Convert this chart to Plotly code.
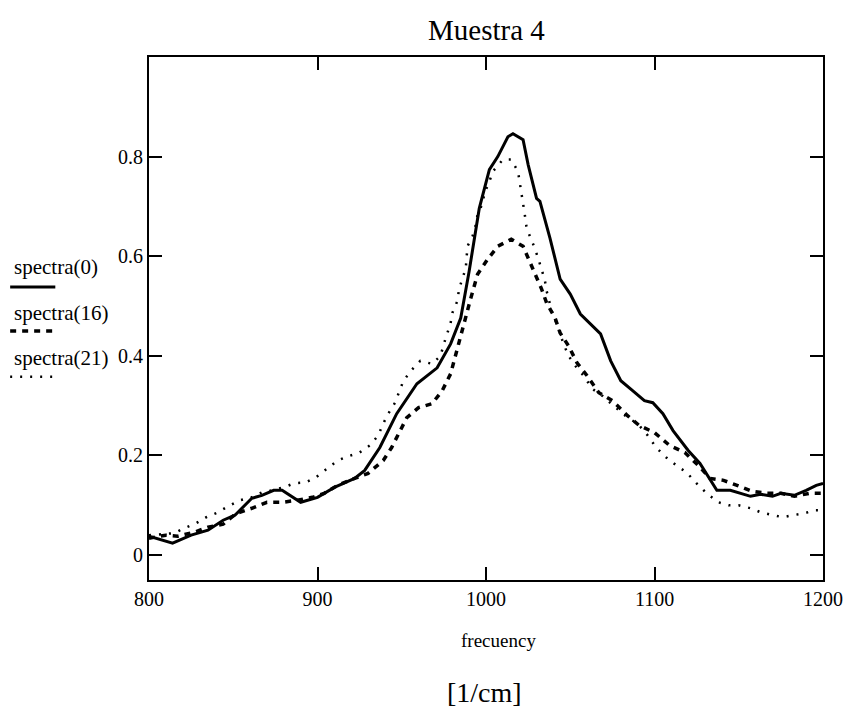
import plotly.graph_objects as go

# spectra(0) - solid
x0 = [800, 814, 825, 835, 844, 851, 861, 867, 874, 879, 890, 900, 910, 922, 928, 937,
      947, 959, 971, 979, 985, 990, 996, 1002, 1007, 1013, 1016, 1022, 1025, 1030,
      1032, 1038, 1044, 1050, 1056, 1063, 1068, 1074, 1080, 1087, 1094, 1099, 1105,
      1111, 1120, 1127, 1137, 1145, 1157, 1163, 1170, 1175, 1183, 1190, 1196, 1200]
y0 = [0.038, 0.024, 0.040, 0.050, 0.070, 0.080, 0.114, 0.120, 0.130, 0.130, 0.106,
      0.116, 0.136, 0.154, 0.170, 0.216, 0.284, 0.344, 0.376, 0.424, 0.476, 0.570,
      0.696, 0.774, 0.800, 0.840, 0.846, 0.834, 0.784, 0.716, 0.710, 0.636, 0.554,
      0.524, 0.484, 0.460, 0.444, 0.390, 0.350, 0.330, 0.310, 0.306, 0.284, 0.250,
      0.210, 0.184, 0.130, 0.130, 0.118, 0.122, 0.118, 0.124, 0.120, 0.130, 0.140, 0.144]

# spectra(16) - dashed
x16 = [800, 810, 817, 827, 835, 844, 852, 861, 870, 879, 888, 897, 904, 912, 922, 930,
       939, 944, 953, 960, 968, 974, 979, 983, 988, 991, 995, 1001, 1007, 1015, 1022,
       1026, 1029, 1033, 1036, 1041, 1044, 1049, 1054, 1060, 1067, 1075, 1084, 1091,
       1100, 1109, 1118, 1126, 1133, 1141, 1149, 1158, 1167, 1175, 1183, 1192, 1200]
y16 = [0.034, 0.040, 0.038, 0.046, 0.056, 0.062, 0.084, 0.094, 0.106, 0.106, 0.110,
       0.116, 0.124, 0.140, 0.154, 0.164, 0.190, 0.216, 0.276, 0.296, 0.304, 0.330,
       0.364, 0.416, 0.476, 0.516, 0.564, 0.594, 0.620, 0.634, 0.620, 0.590, 0.566,
       0.534, 0.506, 0.476, 0.446, 0.420, 0.386, 0.360, 0.326, 0.310, 0.280, 0.260,
       0.246, 0.220, 0.206, 0.180, 0.154, 0.150, 0.140, 0.128, 0.124, 0.124, 0.118,
       0.124, 0.124]

# spectra(21) - dotted
x21 = [800, 808, 815, 821, 828, 834, 841, 847, 854, 861, 867, 873, 880, 886, 893, 899,
       906, 912, 918, 925, 931, 936, 939, 942, 946, 951, 956, 961, 968, 973, 975, 977,
       979, 980, 983, 984, 986, 988, 989, 992, 994, 995, 998, 999, 1002, 1004, 1010,
       1015, 1019, 1020, 1021, 1022, 1023, 1024, 1026, 1029, 1031, 1033, 1035, 1036,
       1039, 1042, 1046, 1049, 1053, 1058, 1063, 1069, 1075, 1084, 1090, 1096, 1101,
       1107, 1113, 1119, 1125, 1131, 1138, 1144, 1150, 1157, 1163, 1170, 1176, 1182,
       1189, 1195, 1200]
y21 = [0.040, 0.042, 0.044, 0.054, 0.064, 0.076, 0.086, 0.098, 0.110, 0.116, 0.126,
       0.130, 0.136, 0.144, 0.146, 0.156, 0.174, 0.190, 0.198, 0.206, 0.220, 0.240,
       0.264, 0.284, 0.306, 0.350, 0.372, 0.390, 0.384, 0.400, 0.424, 0.444, 0.466,
       0.486, 0.510, 0.534, 0.554, 0.576, 0.620, 0.640, 0.664, 0.684, 0.706, 0.726,
       0.750, 0.770, 0.794, 0.794, 0.770, 0.750, 0.726, 0.706, 0.684, 0.660, 0.640,
       0.616, 0.596, 0.574, 0.550, 0.530, 0.490, 0.464, 0.424, 0.400, 0.380, 0.360,
       0.334, 0.320, 0.302, 0.276, 0.264, 0.240, 0.216, 0.196, 0.180, 0.166, 0.144,
       0.124, 0.106, 0.100, 0.100, 0.094, 0.086, 0.080, 0.076, 0.080, 0.084, 0.090, 0.090]

legend_names = ["spectra(0)", "spectra(16)", "spectra(21)"]
x_ticks = [800, 900, 1000, 1100, 1200]
y_ticks = [0, 0.2, 0.4, 0.6, 0.8]

SERIF = "Liberation Serif"

fig = go.Figure()

styles = [
    dict(color="black", width=3, dash="solid"),
    dict(color="black", width=3.5, dash="6px,6px"),
    dict(color="black", width=2.5, dash="2px,8px"),
]

for xs, ys, name, st in zip([x0, x16, x21], [y0, y16, y21], legend_names, styles):
    fig.add_trace(go.Scatter(x=xs, y=ys, mode="lines", name=name, line=st,
                             showlegend=False))

# legend drawn by hand at the left, as in the original
legend_y = [0.578, 0.486, 0.396]
line_y = [0.538, 0.450, 0.358]
for name, ty, ly, st in zip(legend_names, legend_y, line_y, styles):
    fig.add_annotation(text=name, xref="paper", yref="y", x=-0.204, y=ty,
                       xanchor="left", yanchor="middle", showarrow=False,
                       font=dict(family=SERIF, size=21, color="black"))
    fig.add_shape(type="line", xref="paper", yref="y", x0=-0.206, x1=-0.139,
                  y0=ly, y1=ly, line=st)

fig.add_annotation(text="frecuency", xref="paper", yref="paper", x=0.519, y=-0.1166,
                   xanchor="center", yanchor="middle", showarrow=False,
                   font=dict(family=SERIF, size=19, color="black"))
fig.add_annotation(text="[1/cm]", xref="paper", yref="paper", x=0.498, y=-0.216,
                   xanchor="center", yanchor="middle", showarrow=False,
                   font=dict(family=SERIF, size=28, color="black"))
fig.add_annotation(text="Muestra 4", xref="paper", yref="paper", x=0.5, y=1.052,
                   xanchor="center", yanchor="middle", showarrow=False,
                   font=dict(family=SERIF, size=29, color="black"))

fig.update_layout(
    width=846, height=715,
    margin=dict(l=149, r=23, t=57, b=135, autoexpand=False),
    paper_bgcolor="white",
    plot_bgcolor="white",
    font=dict(family=SERIF, color="black"),
)

fig.update_xaxes(
    range=[800, 1200], tickvals=x_ticks, ticktext=[str(v) for v in x_ticks],
    showgrid=False, zeroline=False, automargin=False,
    showline=True, linecolor="black", linewidth=2, mirror="ticks",
    ticks="inside", ticklen=13, tickwidth=2, tickcolor="black",
    ticklabeloverflow="allow",
    tickfont=dict(family=SERIF, size=20, color="black"),
)
fig.update_yaxes(
    range=[-0.05, 1.0], tickvals=y_ticks, ticktext=["0", "0.2", "0.4", "0.6", "0.8"],
    showgrid=False, zeroline=False, automargin=False,
    showline=True, linecolor="black", linewidth=2, mirror="ticks",
    ticks="inside", ticklen=13, tickwidth=2, tickcolor="black",
    tickfont=dict(family=SERIF, size=20, color="black"),
)

# drop the browser's default body margin so the 846x715 figure fills the window
fig.write_html("out.html",
               config={"displayModeBar": False},
               post_script="document.body.style.margin='0';"
                           "document.body.style.overflow='hidden';")
